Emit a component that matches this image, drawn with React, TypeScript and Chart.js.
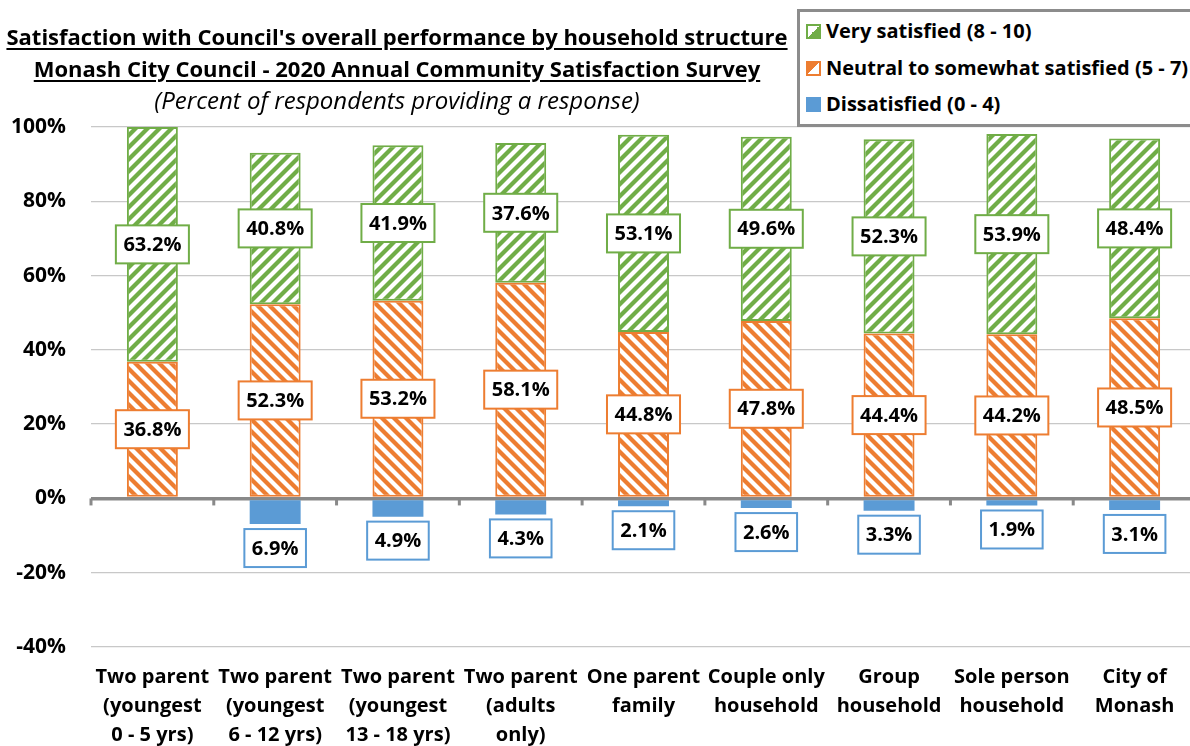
import React, { useEffect, useRef } from 'react';
import { Chart, registerables } from 'chart.js';

Chart.register(...registerables);

const categories: string[][] = [
  ['Two parent', '(youngest', '0 - 5 yrs)'],
  ['Two parent', '(youngest', '6 - 12 yrs)'],
  ['Two parent', '(youngest', '13 - 18 yrs)'],
  ['Two parent', '(adults', 'only)'],
  ['One parent', 'family'],
  ['Couple only', 'household'],
  ['Group', 'household'],
  ['Sole person', 'household'],
  ['City of', 'Monash'],
];
const verySatisfied: number[] = [63.2, 40.8, 41.9, 37.6, 53.1, 49.6, 52.3, 53.9, 48.4];
const neutral: number[] = [36.8, 52.3, 53.2, 58.1, 44.8, 47.8, 44.4, 44.2, 48.5];
const dissatisfied: (number | null)[] = [null, -6.9, -4.9, -4.3, -2.1, -2.6, -3.3, -1.9, -3.1];

const seriesNames = ['Very satisfied (8 - 10)', 'Neutral to somewhat satisfied (5 - 7)', 'Dissatisfied (0 - 4)'];
const titleLines = [
  "Satisfaction with Council's overall performance by household structure",
  'Monash City Council - 2020 Annual Community Satisfaction Survey',
  '(Percent of respondents providing a response)',
];
const yMin = -40;
const yMax = 100;
const yStep = 20;

const GREEN = '#70AD47';
const ORANGE = '#ED7D31';
const BLUE = '#5B9BD5';
const FONT = '"Open Sans", Lato, sans-serif';

function makePattern(color: string, dir: 'up' | 'down') {
  const s = 12;
  const c = document.createElement('canvas');
  c.width = s;
  c.height = s;
  const g = c.getContext('2d')!;
  g.fillStyle = '#ffffff';
  g.fillRect(0, 0, s, s);
  g.strokeStyle = color;
  g.lineWidth = 4.2;
  for (let k = -1; k <= 1; k++) {
    g.beginPath();
    if (dir === 'up') {
      g.moveTo(k * s - 2, s + 2);
      g.lineTo(k * s + s + 2, -2);
    } else {
      g.moveTo(k * s - 2, -2);
      g.lineTo(k * s + s + 2, s + 2);
    }
    g.stroke();
  }
  return g.createPattern(c, 'repeat')!;
}

const zeroTicksPlugin = {
  id: 'zeroTicks',
  beforeDatasetsDraw(chart: any) {
    const xs = chart.scales.x;
    const ys = chart.scales.y;
    const ctx = chart.ctx;
    const y0 = ys.getPixelForValue(0);
    const step = xs.getPixelForValue(1) - xs.getPixelForValue(0);
    ctx.save();
    ctx.fillStyle = '#898989';
    for (let i = 0; i <= categories.length; i++) {
      const x = xs.getPixelForValue(0) - step / 2 + i * step;
      ctx.fillRect(x - 1.5, y0, 3, 7);
    }
    ctx.restore();
  },
};

const boxLabelsPlugin = {
  id: 'boxLabels',
  afterDatasetsDraw(chart: any) {
    const ctx = chart.ctx;
    ctx.save();
    ctx.font = `bold 20px ${FONT}`;
    chart.data.datasets.forEach((ds: any, di: number) => {
      const meta = chart.getDatasetMeta(di);
      meta.data.forEach((el: any, i: number) => {
        const v = ds.data[i];
        if (v == null) return;
        const text = Math.abs(v).toFixed(1) + '%';
        const w = ctx.measureText(text).width + 15;
        const h = 38;
        const { x, y, base } = el.getProps(['x', 'y', 'base'], true);
        const cy = v < 0 ? Math.max(y, base) + 5 + h / 2 : (y + base) / 2;
        ctx.fillStyle = '#ffffff';
        ctx.fillRect(x - w / 2, cy - h / 2, w, h);
        ctx.strokeStyle = ds.labelColor;
        ctx.lineWidth = 2;
        ctx.strokeRect(x - w / 2, cy - h / 2, w, h);
        ctx.fillStyle = '#000000';
        ctx.textAlign = 'center';
        ctx.textBaseline = 'middle';
        ctx.fillText(text, x, cy + 1);
      });
    });
    ctx.restore();
  },
};

export default function App() {
  const ref = useRef<HTMLCanvasElement>(null);

  useEffect(() => {
    const canvas = ref.current!;
    const chart = new Chart(canvas, {
      type: 'bar',
      data: {
        labels: categories as any,
        datasets: [
          {
            label: seriesNames[1],
            data: neutral,
            backgroundColor: makePattern(ORANGE, 'down'),
            borderColor: ORANGE,
            borderWidth: 2,
            borderSkipped: false,
            labelColor: ORANGE,
          } as any,
          {
            label: seriesNames[0],
            data: verySatisfied,
            backgroundColor: makePattern(GREEN, 'up'),
            borderColor: GREEN,
            borderWidth: 2,
            borderSkipped: false,
            labelColor: GREEN,
          } as any,
          {
            label: seriesNames[2],
            data: dissatisfied,
            backgroundColor: BLUE,
            borderWidth: 0,
            labelColor: BLUE,
          } as any,
        ],
      },
      options: {
        responsive: false,
        animation: false,
        devicePixelRatio: 1,
        layout: { padding: { top: 127, right: 2, left: 0, bottom: 0 } },
        datasets: { bar: { barPercentage: 0.415, categoryPercentage: 1 } },
        plugins: {
          legend: { display: false },
          title: { display: false },
          tooltip: { enabled: false },
        },
        scales: {
          x: {
            stacked: true,
            grid: { display: false },
            border: { display: false },
            ticks: {
              color: '#000',
              font: { family: FONT, weight: 'bold', size: 20, lineHeight: '29px' } as any,
              padding: 8,
              maxRotation: 0,
              autoSkip: false,
            },
            afterFit(scale: any) {
              scale.height = 99;
            },
          },
          y: {
            stacked: true,
            min: yMin,
            max: yMax,
            border: { display: false },
            grid: {
              drawTicks: false,
              color: (c: any) => (c.tick && c.tick.value === 0 ? '#898989' : '#C8C8C8'),
              lineWidth: (c: any) => (c.tick && c.tick.value === 0 ? 3.5 : 1.3),
            },
            ticks: {
              stepSize: yStep,
              color: '#000',
              padding: 25,
              font: { family: FONT, weight: 'bold', size: 21 } as any,
              callback: (v: any) => v + '%',
            },
            afterFit(scale: any) {
              scale.width = 91;
            },
          },
        },
      },
      plugins: [zeroTicksPlugin, boxLabelsPlugin],
    });
    return () => chart.destroy();
  }, []);

  const legendColors = [
    { border: GREEN, bg: `linear-gradient(to top left, ${GREEN} 50%, #ffffff 50%)` },
    { border: ORANGE, bg: `linear-gradient(to bottom right, ${ORANGE} 50%, #ffffff 50%)` },
    { border: BLUE, bg: BLUE },
  ];
  const legendRowY = [31, 68, 104];
  const titleY = [36, 68, 100];
  const titleSize = [22, 22, 24];

  return (
    <div
      style={{
        position: 'fixed',
        left: 0,
        top: 0,
        width: 1190,
        height: 746,
        overflow: 'hidden',
        background: '#ffffff',
        fontFamily: FONT,
      }}
    >
      <canvas ref={ref} width={1198} height={746} style={{ position: 'absolute', left: 0, top: 0 }} />
      {titleLines.map((t, i) => (
        <div
          key={i}
          style={{
            position: 'absolute',
            left: 0,
            width: 794,
            top: titleY[i] - 15,
            height: 30,
            lineHeight: '30px',
            textAlign: 'center',
            fontSize: titleSize[i],
            fontWeight: i < 2 ? 'bold' : 'normal',
            fontStyle: i < 2 ? 'normal' : 'italic',
            textDecoration: i < 2 ? 'underline' : 'none',
            textUnderlineOffset: 3,
            whiteSpace: 'nowrap',
            color: '#000',
          }}
        >
          {t}
        </div>
      ))}
      <div
        style={{
          position: 'absolute',
          left: 797,
          top: 9,
          width: 420,
          height: 112,
          border: '3px solid #8C8C8C',
          background: '#ffffff',
        }}
      />
      {seriesNames.map((n, i) => (
        <React.Fragment key={i}>
          <div
            style={{
              position: 'absolute',
              left: 806,
              top: legendRowY[i] - 7,
              width: 15,
              height: 15,
              boxSizing: 'border-box',
              border: `2px solid ${legendColors[i].border}`,
              background: legendColors[i].bg,
            }}
          />
          <div
            style={{
              position: 'absolute',
              left: 826,
              top: legendRowY[i] - 15,
              height: 30,
              lineHeight: '30px',
              fontSize: 20,
              fontWeight: 'bold',
              whiteSpace: 'nowrap',
              color: '#000',
            }}
          >
            {n}
          </div>
        </React.Fragment>
      ))}
    </div>
  );
}
